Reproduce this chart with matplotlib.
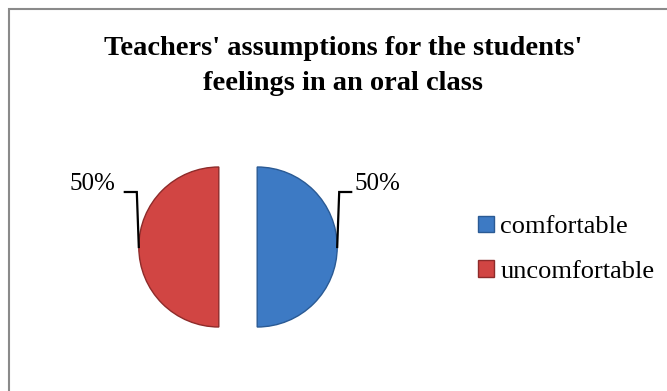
import numpy as np
import matplotlib
matplotlib.use("Agg")
import matplotlib.pyplot as plt
from matplotlib.patches import Rectangle

# data
title = "Teachers' assumptions for the students'\nfeelings in an oral class"
categories = ['comfortable', 'uncomfortable']
values = [50, 50]
colors = ['#3d7ac4', '#d14543']
edge_colors = ['#2a5a94', '#8e2b2a']

W, H = 667, 391
plt.rcParams['font.family'] = ['Liberation Serif', 'DejaVu Serif']

fig = plt.figure(figsize=(W / 100, H / 100), dpi=100)
ax = fig.add_axes([0, 0, 1, 1])

# chart frame (only top/left visible in reference)
fig.patches.append(Rectangle((9 / W, -0.1), 2, (H - 9) / H + 0.1,
                             transform=fig.transFigure, fill=False,
                             edgecolor='#8a8a8a', linewidth=1.5))

cx, cy, r = 238, H - 247, 80
# explode is in data units here, so scale by radius
wedges, _ = ax.pie(values, colors=colors, startangle=90, counterclock=False,
                   center=(cx, cy), radius=r, explode=[0.24 * r] * len(values),
                   wedgeprops=dict(linewidth=1.0), frame=True)
for w, ec in zip(wedges, edge_colors):
    w.set_edgecolor(ec)
ax.set_xlim(0, W)
ax.set_ylim(0, H)
ax.set_aspect('equal')
ax.axis('off')

total = sum(values)
for w, v in zip(wedges, values):
    ang = np.deg2rad((w.theta1 + w.theta2) / 2)
    ox, oy = w.center
    ex, ey = ox + r * np.cos(ang), oy + r * np.sin(ang)
    side = 1 if np.cos(ang) >= 0 else -1
    elbow = (ex + side * 2, ey + 55)
    end = (elbow[0] + side * 12, elbow[1])
    ax.plot([ex, elbow[0], end[0]], [ey, elbow[1], end[1]], color='black', lw=1.6,
            solid_joinstyle='miter')
    gap = 3 if side > 0 else 9
    ax.text(end[0] + side * gap, end[1] + 8, f"{v / total * 100:.0f}%",
            ha='left' if side > 0 else 'right', va='center', fontsize=18)

fig.text(343 / W, 1 - 66 / H, title, ha='center', va='center',
         fontsize=20.5, fontweight='bold', linespacing=1.55)

ax.legend(wedges, categories, loc='center left',
          bbox_to_anchor=(454 / W, 1 - 249 / H), bbox_transform=fig.transFigure,
          frameon=False, fontsize=19, handlelength=0.6, handleheight=0.6,
          handletextpad=0.25, labelspacing=0.82)

fig.savefig('out.png', dpi=100)
